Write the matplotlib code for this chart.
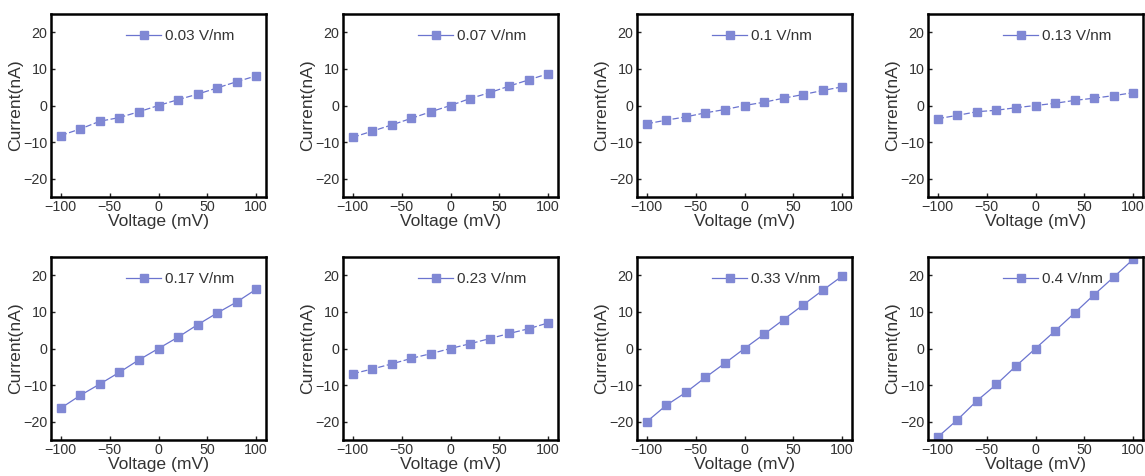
import numpy as np
import matplotlib.pyplot as plt

plt.rcParams['font.family'] = ['Liberation Sans', 'DejaVu Sans']

voltage = [-100, -80, -60, -40, -20, 0, 20, 40, 60, 80, 100]

fields = ['0.03 V/nm', '0.07 V/nm', '0.1 V/nm', '0.13 V/nm',
          '0.17 V/nm', '0.23 V/nm', '0.33 V/nm', '0.4 V/nm']

i_003 = [-8.2, -6.4, -4.3, -3.3, -1.7, 0.0, 1.6, 3.1, 4.8, 6.5, 8.1]
i_007 = [-8.7, -7.0, -5.3, -3.5, -1.7, 0.0, 1.9, 3.5, 5.3, 7.0, 8.7]
i_010 = [-5.0, -4.0, -3.1, -2.0, -1.1, 0.0, 0.9, 2.0, 3.0, 4.1, 5.1]
i_013 = [-3.6, -2.7, -1.7, -1.3, -0.6, 0.0, 0.6, 1.4, 2.0, 2.7, 3.5]
i_017 = [-16.3, -12.8, -9.7, -6.5, -3.1, 0.0, 3.1, 6.5, 9.7, 12.7, 16.2]
i_023 = [-6.9, -5.6, -4.2, -2.7, -1.4, 0.0, 1.3, 2.7, 4.1, 5.4, 7.0]
i_033 = [-20.0, -15.5, -12.0, -7.9, -4.0, 0.0, 3.9, 7.9, 11.9, 15.9, 19.8]
i_040 = [-24.2, -19.5, -14.3, -9.8, -4.8, 0.0, 4.8, 9.7, 14.7, 19.5, 24.4]

currents = [i_003, i_007, i_010, i_013, i_017, i_023, i_033, i_040]

line_col = '#6b74cf'
mark_col = '#8088d4'
text_col = '#333333'

W, H = 1145, 476
fig = plt.figure(figsize=(W / 100, H / 100), dpi=100)

lefts = [51, 343, 637, 928]
tops = [14, 257]
aw, ah = 215, 183

for k, (lab, cur) in enumerate(zip(fields, currents)):
    row, col = divmod(k, 4)
    ax = fig.add_axes([lefts[col] / W, 1 - (tops[row] + ah) / H, aw / W, ah / H])
    steep = max(abs(c) for c in cur) > 15
    ax.plot(voltage, cur, color=line_col, lw=0.9,
            ls='-' if steep else (0, (5, 2)),
            marker='s', ms=5.5, mfc=mark_col, mec=mark_col)
    # solid handle for the legend entry
    h, = ax.plot([], [], color=line_col, lw=0.9, marker='s', ms=5.5,
                 mfc=mark_col, mec=mark_col)
    ax.legend([h], [lab], loc='center left', frameon=False, fontsize=11,
              handlelength=2.3, handletextpad=0.25, borderpad=0,
              bbox_to_anchor=(0.35, 0.88), borderaxespad=0,
              labelcolor=text_col)
    ax.set_xlim(-110, 110)
    ax.set_ylim(-25, 25)
    ax.set_xticks([-100, -50, 0, 50, 100])
    ax.set_yticks([-20, -10, 0, 10, 20])
    ax.tick_params(direction='in', length=3, width=1, labelsize=10.3,
                   pad=2.5, colors='#222222', labelcolor=text_col)
    for s in ax.spines.values():
        s.set_linewidth(1.8)
    ax.set_xlabel('Voltage (mV)', fontsize=12.6, labelpad=0, color=text_col)
    ax.set_ylabel('Current(nA)', fontsize=12.6, labelpad=0, color=text_col)

fig.savefig('out.png', dpi=100)
